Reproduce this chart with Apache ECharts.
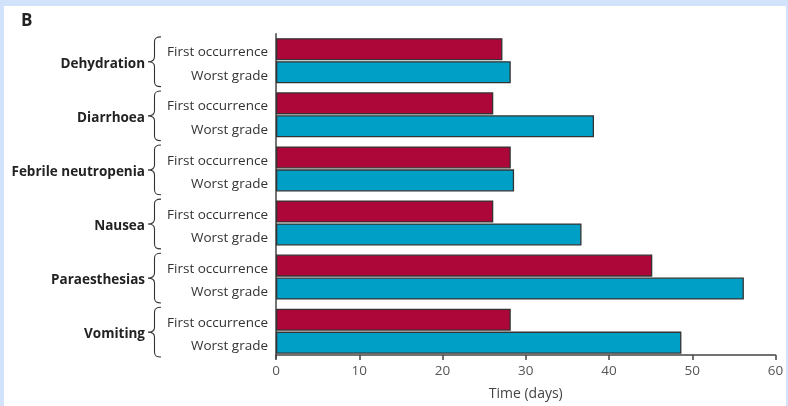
<!DOCTYPE html>
<html>
<head>
<meta charset="utf-8">
<script src="https://cdn.jsdelivr.net/npm/echarts@6/dist/echarts.min.js"></script>
<style>
  html, body { margin: 0; padding: 0; width: 788px; height: 406px; background: #d3e2fb; overflow: hidden; }
  #panel { position: absolute; left: 4px; top: 6px; right: 2px; bottom: 0; background: #ffffff; }
  #chart { position: absolute; left: 0; top: 0; width: 788px; height: 406px; }
</style>
</head>
<body>
<div id="panel"></div>
<div id="chart"></div>
<script>
// Adverse events, time to onset (days)
const categories = ['Dehydration', 'Diarrhoea', 'Febrile neutropenia', 'Nausea', 'Paraesthesias', 'Vomiting'];
const firstOccurrence = [27.2, 26.1, 28.2, 26.1, 45.2, 28.2];
const worstGrade = [28.2, 38.2, 28.6, 36.7, 56.2, 48.7];
const seriesNames = ['First occurrence', 'Worst grade'];
const xTicks = { min: 0, max: 60, step: 10 };
const axisTitle = 'Time (days)';

const FONT = '"Open Sans", sans-serif';
// left curly brace drawn in a 10 x 50 box, scaled to the group height
const BRACE = 'M10,0 C6,0 5,1.5 5,5 L5,20 C5,23.5 3.5,25 0,25 C3.5,25 5,26.5 5,30 L5,45 C5,48.5 6,50 10,50';

const chart = echarts.init(document.getElementById('chart'), null, { renderer: 'canvas' });

chart.setOption({
  backgroundColor: 'transparent',
  animation: false,
  title: {
    text: 'B', left: 16, top: 8,
    textStyle: { fontFamily: FONT, fontSize: 17, fontWeight: 'bold', color: '#222' }
  },
  grid: { left: 276, right: 12.5, top: 33.7, bottom: 42.5, containLabel: false },
  xAxis: {
    type: 'value',
    min: xTicks.min, max: xTicks.max, interval: xTicks.step,
    offset: -3.2,
    name: axisTitle, nameLocation: 'middle', nameGap: 32,
    nameTextStyle: { fontFamily: FONT, fontSize: 14, color: '#444' },
    axisLine: { show: true, lineStyle: { color: '#444', width: 1.5 } },
    axisTick: { show: true, length: 5, lineStyle: { color: '#444', width: 1.5 } },
    axisLabel: { fontFamily: FONT, fontSize: 13.5, color: '#555', margin: 9 },
    splitLine: { show: false }
  },
  yAxis: [
    {
      type: 'category', data: categories, inverse: true,
      axisLine: { show: true, lineStyle: { color: '#444', width: 1.5 } },
      axisTick: { show: false },
      axisLabel: {
        margin: 8, align: 'right', verticalAlign: 'middle', padding: [7, 0, 0, 0],
        formatter: () => '{s|' + seriesNames[0] + '}\n{s|' + seriesNames[1] + '}',
        rich: { s: { fontFamily: FONT, fontSize: 13.5, color: '#333', lineHeight: 23.5, align: 'right' } }
      }
    },
    {
      type: 'category', data: categories, inverse: true, position: 'left', offset: 123,
      axisLine: { show: false }, axisTick: { show: false },
      axisLabel: {
        margin: 8, align: 'right', verticalAlign: 'middle',
        formatter: (v) => '{b|' + v + '}',
        rich: { b: { fontFamily: FONT, fontSize: 13.5, fontWeight: 'bold', color: '#222', padding: [6, 0, 0, 0] } }
      }
    }
  ],
  series: [
    {
      name: seriesNames[0], type: 'bar', data: firstOccurrence,
      barCategoryGap: '16.7%', barGap: '4%',
      itemStyle: { color: '#ad0638', borderColor: '#333', borderWidth: 1.3 }
    },
    {
      name: seriesNames[1], type: 'bar', data: worstGrade,
      barCategoryGap: '16.7%', barGap: '4%',
      itemStyle: { color: '#00a0c6', borderColor: '#333', borderWidth: 1.3 }
    },
    {
      type: 'custom', silent: true, clip: false,
      data: categories.map((c, i) => [0, i]),
      renderItem: (params, api) => {
        const pt = api.coord([0, api.value(1)]);
        const band = api.size([0, 1])[1];
        const h = band * 0.92;
        return {
          type: 'path',
          shape: { pathData: BRACE, x: pt[0] - 128, y: pt[1] - h / 2 + 1, width: 13, height: h, layout: 'cover' },
          style: { fill: 'none', stroke: '#333', lineWidth: 1.1 }
        };
      }
    }
  ]
});
</script>
</body>
</html>
